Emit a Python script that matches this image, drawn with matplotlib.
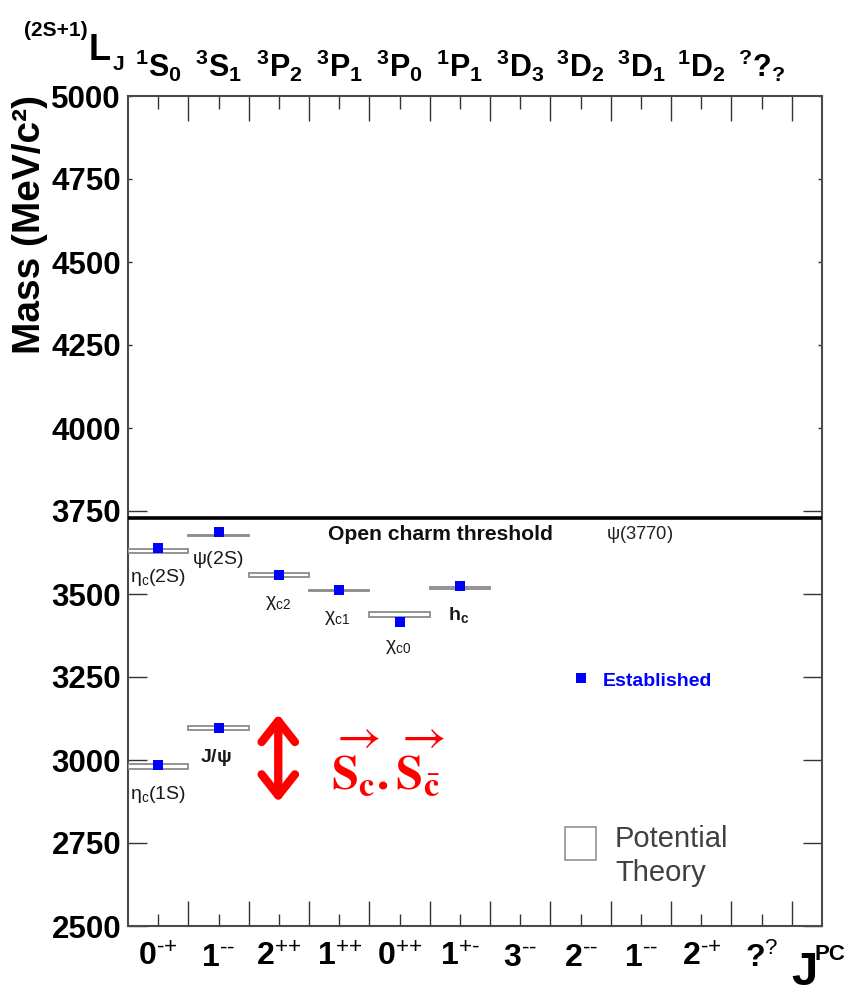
import matplotlib
matplotlib.use("Agg")
import matplotlib.pyplot as plt
from matplotlib.patches import Rectangle, FancyArrowPatch
from matplotlib.transforms import blended_transform_factory

SANS = "Liberation Sans"

plt.rcParams.update({
    "font.family": [SANS, "DejaVu Sans"],
    "mathtext.fontset": "custom",
    "mathtext.rm": SANS,
    "mathtext.it": SANS + ":italic",
    "mathtext.bf": SANS + ":bold",
    "mathtext.sf": SANS,
    "mathtext.default": "rm",
})

# ---- quantum-number columns ----
spin_mult = ["1", "3", "3", "3", "3", "1", "3", "3", "3", "1", "?"]
orbital = ["S", "S", "P", "P", "P", "P", "D", "D", "D", "D", "?"]
j_sub = ["0", "1", "2", "1", "0", "1", "3", "2", "1", "2", "?"]
j_value = ["0", "1", "2", "1", "0", "1", "3", "2", "1", "2", "?"]
pc_value = ["-+", "--", "++", "++", "++", "+-", "--", "--", "--", "-+", "?"]

# ---- established charmonium states (MeV/c^2) ----
state_labels = [r"$\eta_c(1S)$", r"$\mathbf{J/\psi}$", r"$\eta_c(2S)$", r"$\psi(2S)$",
                r"$\chi_{c2}$", r"$\chi_{c1}$", r"$\chi_{c0}$", r"$\mathbf{h_c}$"]
state_column = [0, 1, 0, 1, 2, 3, 4, 5]
state_mass = [2984, 3097, 3638, 3686, 3556, 3511, 3415, 3525]

# ---- potential-model predictions (band low / high, MeV/c^2) ----
theory_column = [0, 1, 0, 1, 2, 3, 4, 5]
theory_low = [2974, 3090, 3623, 3675, 3550, 3508, 3430, 3516]
theory_high = [2988, 3102, 3635, 3679, 3563, 3513, 3445, 3521]

open_charm_threshold = 3730

mass_ticks_low = [2500, 2750, 3000, 3250, 3500, 3750]
mass_ticks_high = [4000, 4250, 4500, 4750, 5000]

W, H = 854, 999
fig = plt.figure(figsize=(W / 100, H / 100), dpi=100)
ax = fig.add_axes([128 / W, 1 - 926 / H, (822 - 128) / W, (926 - 96) / H])

ncol = len(j_value)
ax.set_xlim(0, ncol + 0.5)
ax.set_ylim(2500, 5000)

# frame
for sp in ax.spines.values():
    sp.set_color("#4a4a4a")
    sp.set_linewidth(1.5)

# x axis: long ticks between columns, short ticks with J^PC labels at column centres
centres = [i + 0.5 for i in range(ncol)]
ax.set_xticks(range(1, ncol + 1))
ax.set_xticklabels([])
jpc_labels = [r"$\mathbf{%s^{\text{%s}}}$" % (j, pc) for j, pc in zip(j_value, pc_value)]
ax.set_xticks(centres, jpc_labels, minor=True)
ax.tick_params(axis="x", which="major", direction="in", length=18, width=1.0,
               color="#333333", top=True, bottom=True)
ax.tick_params(axis="x", which="minor", direction="in", length=9, width=1.0,
               color="#333333", top=True, bottom=True, labelsize=23, pad=12)

# y axis
ax.set_yticks(mass_ticks_low, [str(v) for v in mass_ticks_low])
ax.set_yticks(mass_ticks_high, [str(v) for v in mass_ticks_high], minor=True)
ax.tick_params(axis="y", which="major", direction="in", length=14, width=1.0,
               color="#333333", left=True, right=True, labelsize=22.5, pad=5)
ax.tick_params(axis="y", which="minor", direction="in", length=3, width=1.0,
               color="#333333", left=True, right=True, labelsize=22.5, pad=5)
for lab in ax.get_yticklabels(which="both"):
    lab.set_fontweight("bold")

# potential-model bands
for c, lo, hi in zip(theory_column, theory_low, theory_high):
    ax.add_patch(Rectangle((c, lo), 1, hi - lo, facecolor="white",
                           edgecolor="#8a8a8a", linewidth=1.3, zorder=3))

# established states
ax.plot([c + 0.5 for c in state_column], state_mass, linestyle="none",
        marker="s", markersize=7.7, color="#0000ff", markeredgewidth=0, zorder=4)

# open-charm threshold
ax.axhline(open_charm_threshold, color="black", linewidth=2.6, zorder=3)
ax.text(5.18, 3679, "Open charm threshold", ha="center", va="center",
        fontsize=15.2, fontweight="bold", color="#111111")
ax.text(8.48, 3679, r"$\psi(3770)$", ha="center", va="center", fontsize=13.2,
        color="#222222")

# state names
label_pos = [(0.03, 2897, "left"), (1.46, 3008, "center"), (0.03, 3551, "left"),
             (1.48, 3604, "center"), (2.49, 3472, "center"), (3.46, 3427, "center"),
             (4.48, 3341, "center"), (5.48, 3436, "center")]
for text, (x, y, ha) in zip(state_labels, label_pos):
    ax.text(x, y, text, ha=ha, va="center", fontsize=14, color="#1a1a1a", zorder=5)

# keys
ax.plot([(581 - 128) / 694], [(926 - 678) / 830], transform=ax.transAxes,
        marker="s", markersize=7.7, color="#0000ff", markeredgewidth=0,
        linestyle="none", clip_on=False)
ax.text((603 - 128) / 694, (926 - 681) / 830, "Established", transform=ax.transAxes,
        ha="left", va="center", fontsize=14, fontweight="bold", color="#0000ff")
ax.add_patch(Rectangle(((565 - 128) / 694, (926 - 860) / 830), 31 / 694, 33 / 830,
                       transform=ax.transAxes, facecolor="white",
                       edgecolor="#9a9a9a", linewidth=1.3))
ax.text((615 - 128) / 694, (926 - 847) / 830, "Potential", transform=ax.transAxes,
        ha="left", va="baseline", fontsize=21, color="#404040")
ax.text((615 - 128) / 694, (926 - 881) / 830, "Theory", transform=ax.transAxes,
        ha="left", va="baseline", fontsize=21, color="#404040")

# hyperfine splitting annotation
arrow = FancyArrowPatch((2.49, 3138), (2.49, 2873),
                        arrowstyle="<->,head_length=0.38,head_width=0.3",
                        mutation_scale=40, linewidth=6, color="#ff0000",
                        capstyle="round", joinstyle="round", shrinkA=0, shrinkB=0,
                        zorder=5)
ax.add_patch(arrow)
ax.text(4.31, 2987,
        r"$\overrightarrow{\mathbf{S}_{\mathbf{c}}}\mathbf{.}"
        r"\overrightarrow{\mathbf{S}_{\bar{\mathbf{c}}}}$",
        ha="center", va="center", fontsize=35, color="#ff0000",
        math_fontfamily="stix", zorder=5)

# spectroscopic labels along the top
top = blended_transform_factory(ax.transData, ax.transAxes)
for c, s, l, j in zip(centres, spin_mult, orbital, j_sub):
    ax.text(c, 1 + 19 / 830, r"$\mathbf{{}^{%s}%s_{%s}}$" % (s, l, j), transform=top,
            ha="center", va="baseline", fontsize=22)

fig.text(24 / W, 1 - 36 / H, "(2S+1)", ha="left", va="baseline",
         fontsize=15, fontweight="bold")
fig.text(89 / W, 1 - 60 / H, "L", ha="left", va="baseline", fontsize=26,
         fontweight="bold")
fig.text(113 / W, 1 - 70 / H, "J", ha="left", va="baseline", fontsize=15,
         fontweight="bold")

# axis titles
fig.text(30 / W, 1 - 95 / H, "Mass (MeV/c²)", rotation=90, ha="center", va="top",
         fontsize=28, fontweight="bold")
fig.text(791 / W, 1 - 985 / H, "J", ha="left", va="baseline", fontsize=34,
         fontweight="bold")
fig.text(815 / W, 1 - 960 / H, "PC", ha="left", va="baseline", fontsize=16,
         fontweight="bold")

fig.savefig("out.png", dpi=100, facecolor="white")
